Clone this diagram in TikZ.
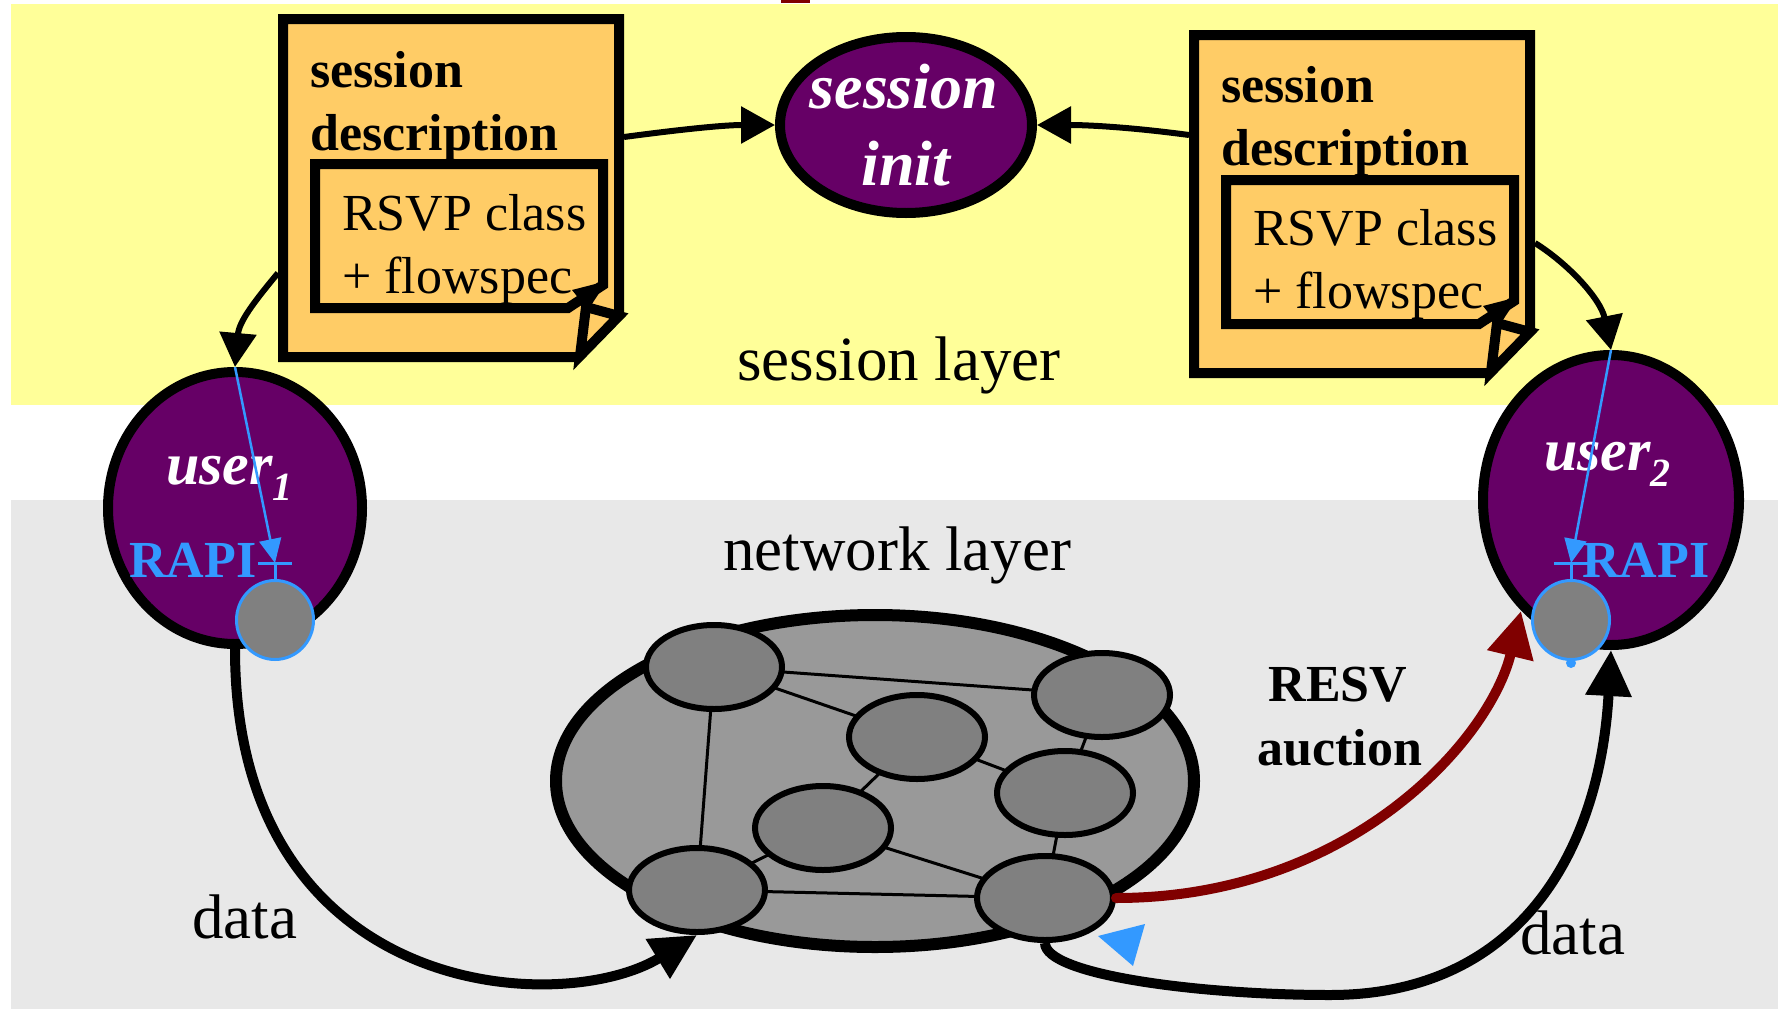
\documentclass[tikz,border=0pt]{standalone}
\usepackage{fontspec}
\setmainfont{Liberation Serif}
\usetikzlibrary{shapes.geometric,arrows.meta}
\definecolor{bandyellow}{HTML}{FFFF99}
\definecolor{bandgrey}{HTML}{E8E8E8}
\definecolor{docfill}{HTML}{FFCC66}
\definecolor{userpurple}{HTML}{660066}
\definecolor{rapiblue}{HTML}{3399FF}
\definecolor{resvred}{HTML}{800000}
\definecolor{cloudgrey}{HTML}{999999}
\definecolor{nodegrey}{HTML}{808080}
\begin{document}
\begin{tikzpicture}[x=1pt,y=-1pt,
  txt/.style={inner sep=0pt,anchor=base west},
  boldtxt/.style={txt,font=\bfseries\fontsize{52}{52}\selectfont},
  regtxt/.style={txt,font=\fontsize{52}{52}\selectfont},
  labtxt/.style={txt,font=\fontsize{63}{63}\selectfont},
  docshape/.style={draw=black,fill=docfill,line width=10pt,line join=miter},
  flapshape/.style={draw=black,fill=docfill,line width=10pt,line join=miter},
  dochold/.style={draw=none,inner sep=0pt,outer sep=0pt,minimum width=346pt,minimum height=348pt},
  userell/.style={ellipse,draw=black,fill=userpurple,line width=10pt,inner sep=0pt},
  portell/.style={ellipse,draw=rapiblue,fill=nodegrey,line width=3pt,inner sep=0pt,minimum width=77pt,minimum height=79pt},
  netnode/.style={ellipse,draw=black,fill=nodegrey,line width=6pt,inner sep=0pt,minimum width=136pt,minimum height=84pt},
  netedge/.style={draw=black,line width=3pt},
  docarrow/.style={draw=black,line width=6pt,-{Triangle[length=34pt,width=36pt]}},
  dataarrow/.style={draw=black,line width=10pt,-{Triangle[length=46pt,width=44pt]}},
  resvarrow/.style={draw=resvred,line width=10pt,-{Triangle[length=46pt,width=45pt]}},
  bluearrow/.style={draw=rapiblue,line width=2.5pt,-{Triangle[length=24pt,width=22pt]}},
  bluetick/.style={draw=rapiblue,line width=3pt},
  rapitxt/.style={txt,text=rapiblue,font=\bfseries\fontsize{52}{52}\selectfont},
  usertxt/.style={txt,text=white,font=\bfseries\itshape\fontsize{60}{60}\selectfont},
  inittxt/.style={inner sep=0pt,anchor=base,text=white,font=\bfseries\itshape\fontsize{64}{64}\selectfont}
]
\useasboundingbox (0,0) rectangle (1778,1009);
% bands
\fill[bandyellow] (11,4) rectangle (1778,405);
\fill[bandgrey] (11,500) rectangle (1778,1009);
\fill[resvred] (781,0) rectangle (810,2.5);

% document boxes
\foreach \dx/\dy in {0/0,911/16}{
  \begin{scope}[shift={(\dx,\dy)}]
    \path[docshape] (283,19) -- (619,19) -- (619,315) -- (578,357) -- (283,357) -- cycle;
    \path[flapshape] (619,316) -- (586,307) -- (580,356) -- cycle;
    \path[docshape] (315,164) -- (603,164) -- (603,285) -- (568,308) -- (315,308) -- cycle;
    \fill[black] (572,290) -- (607,281) -- (588,310) -- cycle;
  \end{scope}
}
\node[dochold] (docL) at (451,188) {};
\node[dochold] (docR) at (1362,204) {};

\node[boldtxt] (sdL1) at (310,87) {session};
\node[boldtxt] (sdL2) at (310,150) {description};
\node[regtxt] (rsL1) at (342,230) {RSVP class};
\node[regtxt] (rsL2) at (342,293) {+ flowspec};
\node[boldtxt] (sdR1) at (1221,102) {session};
\node[boldtxt] (sdR2) at (1221,165) {description};
\node[regtxt] (rsR1) at (1253,245) {RSVP class};
\node[regtxt] (rsR2) at (1253,308) {+ flowspec};

% session init
\node[userell,minimum width=252pt,minimum height=176pt] (sinit) at (906,125) {};
\node[inittxt] (si1) at (904,108) {session};
\node[inittxt] (si2) at (906,185) {init};

% users
\node[userell,minimum width=254pt,minimum height=272pt] (uone) at (235,508) {};
\node[userell,minimum width=256pt,minimum height=290pt] (utwo) at (1611,500) {};
\node[portell] (pone) at (275,620) {};
\node[portell] (ptwo) at (1571,620) {};
\fill[rapiblue] (1571,663) circle (5);

\node[usertxt] (u1) at (166,484) {user\raisebox{-16pt}{\fontsize{40}{40}\selectfont 1}};
\node[usertxt] (u2) at (1544,470) {user\raisebox{-16pt}{\fontsize{40}{40}\selectfont 2}};

% network cloud
\node[ellipse,draw=black,fill=cloudgrey,line width=12pt,inner sep=0pt,minimum width=638pt,minimum height=332pt] (cloud) at (875,781) {};
\path[netedge] (714,667) -- (1102,695);
\path[netedge] (714,667) -- (917,737);
\path[netedge] (714,667) -- (697,890);
\path[netedge] (823,828) -- (697,890);
\path[netedge] (697,890) -- (1045,898);
\path[netedge] (823,828) -- (917,737);
\path[netedge] (823,828) -- (1045,898);
\path[netedge] (917,737) -- (1065,793);
\path[netedge] (1102,695) -- (1065,793);
\path[netedge] (1065,793) -- (1045,898);
\node[netnode] (n1) at (714,667) {};
\node[netnode] (n2) at (1102,695) {};
\node[netnode] (n3) at (917,737) {};
\node[netnode] (n4) at (1065,793) {};
\node[netnode] (n5) at (823,828) {};
\node[netnode] (n6) at (697,890) {};
\node[netnode] (n7) at (1045,898) {};

% arrows from documents
\draw[docarrow] ([yshift=51pt]docL.east) .. controls +(60,-8) and +(-50,0) .. (sinit.west);
\draw[docarrow] ([yshift=69pt]docR.west) .. controls +(-60,-8) and +(50,0) .. (sinit.east);
\draw[docarrow] ([yshift=-85pt]docL.west) .. controls +(-25,30) and +(4,-45) .. (uone.north);
\draw[docarrow] ([yshift=-39pt]docR.east) .. controls +(35,22) and +(-10,-50) .. (utwo.north);

% RAPI blue
\coordinate (tickone) at ([yshift=16pt]pone.north);
\coordinate (ticktwo) at ([yshift=16pt]ptwo.north);
\draw[bluearrow] (uone.north) -- (tickone);
\draw[bluearrow] (utwo.north) -- (ticktwo);
\draw[bluetick] ([xshift=-17pt]tickone) -- ([xshift=17pt]tickone);
\draw[bluetick] (tickone) -- (pone.north);
\draw[bluetick] ([xshift=-17pt]ticktwo) -- ([xshift=17pt]ticktwo);
\draw[bluetick] (ticktwo) -- (ptwo.north);
\node[rapitxt] (r1) at (129,577) {RAPI};
\node[rapitxt] (r2) at (1582,577) {RAPI};

% data arrows
\draw[dataarrow] (uone.south) .. controls +(0,351) and +(-136,83) .. (n6.south);
\coordinate (dr) at (1330,995);
\draw[dataarrow,line join=round] (n7.south) .. controls +(0,32) and +(-130,0) .. (dr) .. controls +(190,0) and +(-11,200) .. (utwo.south);

% RESV arrow
\draw[resvarrow,line cap=round] (n7.east) .. controls +(234,0) and +(-31,129) .. ([xshift=-10pt,yshift=9pt]ptwo.west);
\fill[rapiblue] (1098,936) -- (1145,924) -- (1133,966) -- cycle;

% labels
\node[labtxt] (sl) at (737,380) {session layer};
\node[labtxt] (nl) at (723,570) {network layer};
\node[labtxt] (d1) at (192,938) {data};
\node[labtxt] (d2) at (1520,954) {data};
\node[inner sep=0pt,anchor=base,font=\bfseries\fontsize{52}{52}\selectfont] (resv1) at (1338,701) {RESV};
\node[inner sep=0pt,anchor=base,font=\bfseries\fontsize{52}{52}\selectfont] (resv2) at (1340,765) {auction};
\end{tikzpicture}
\end{document}
